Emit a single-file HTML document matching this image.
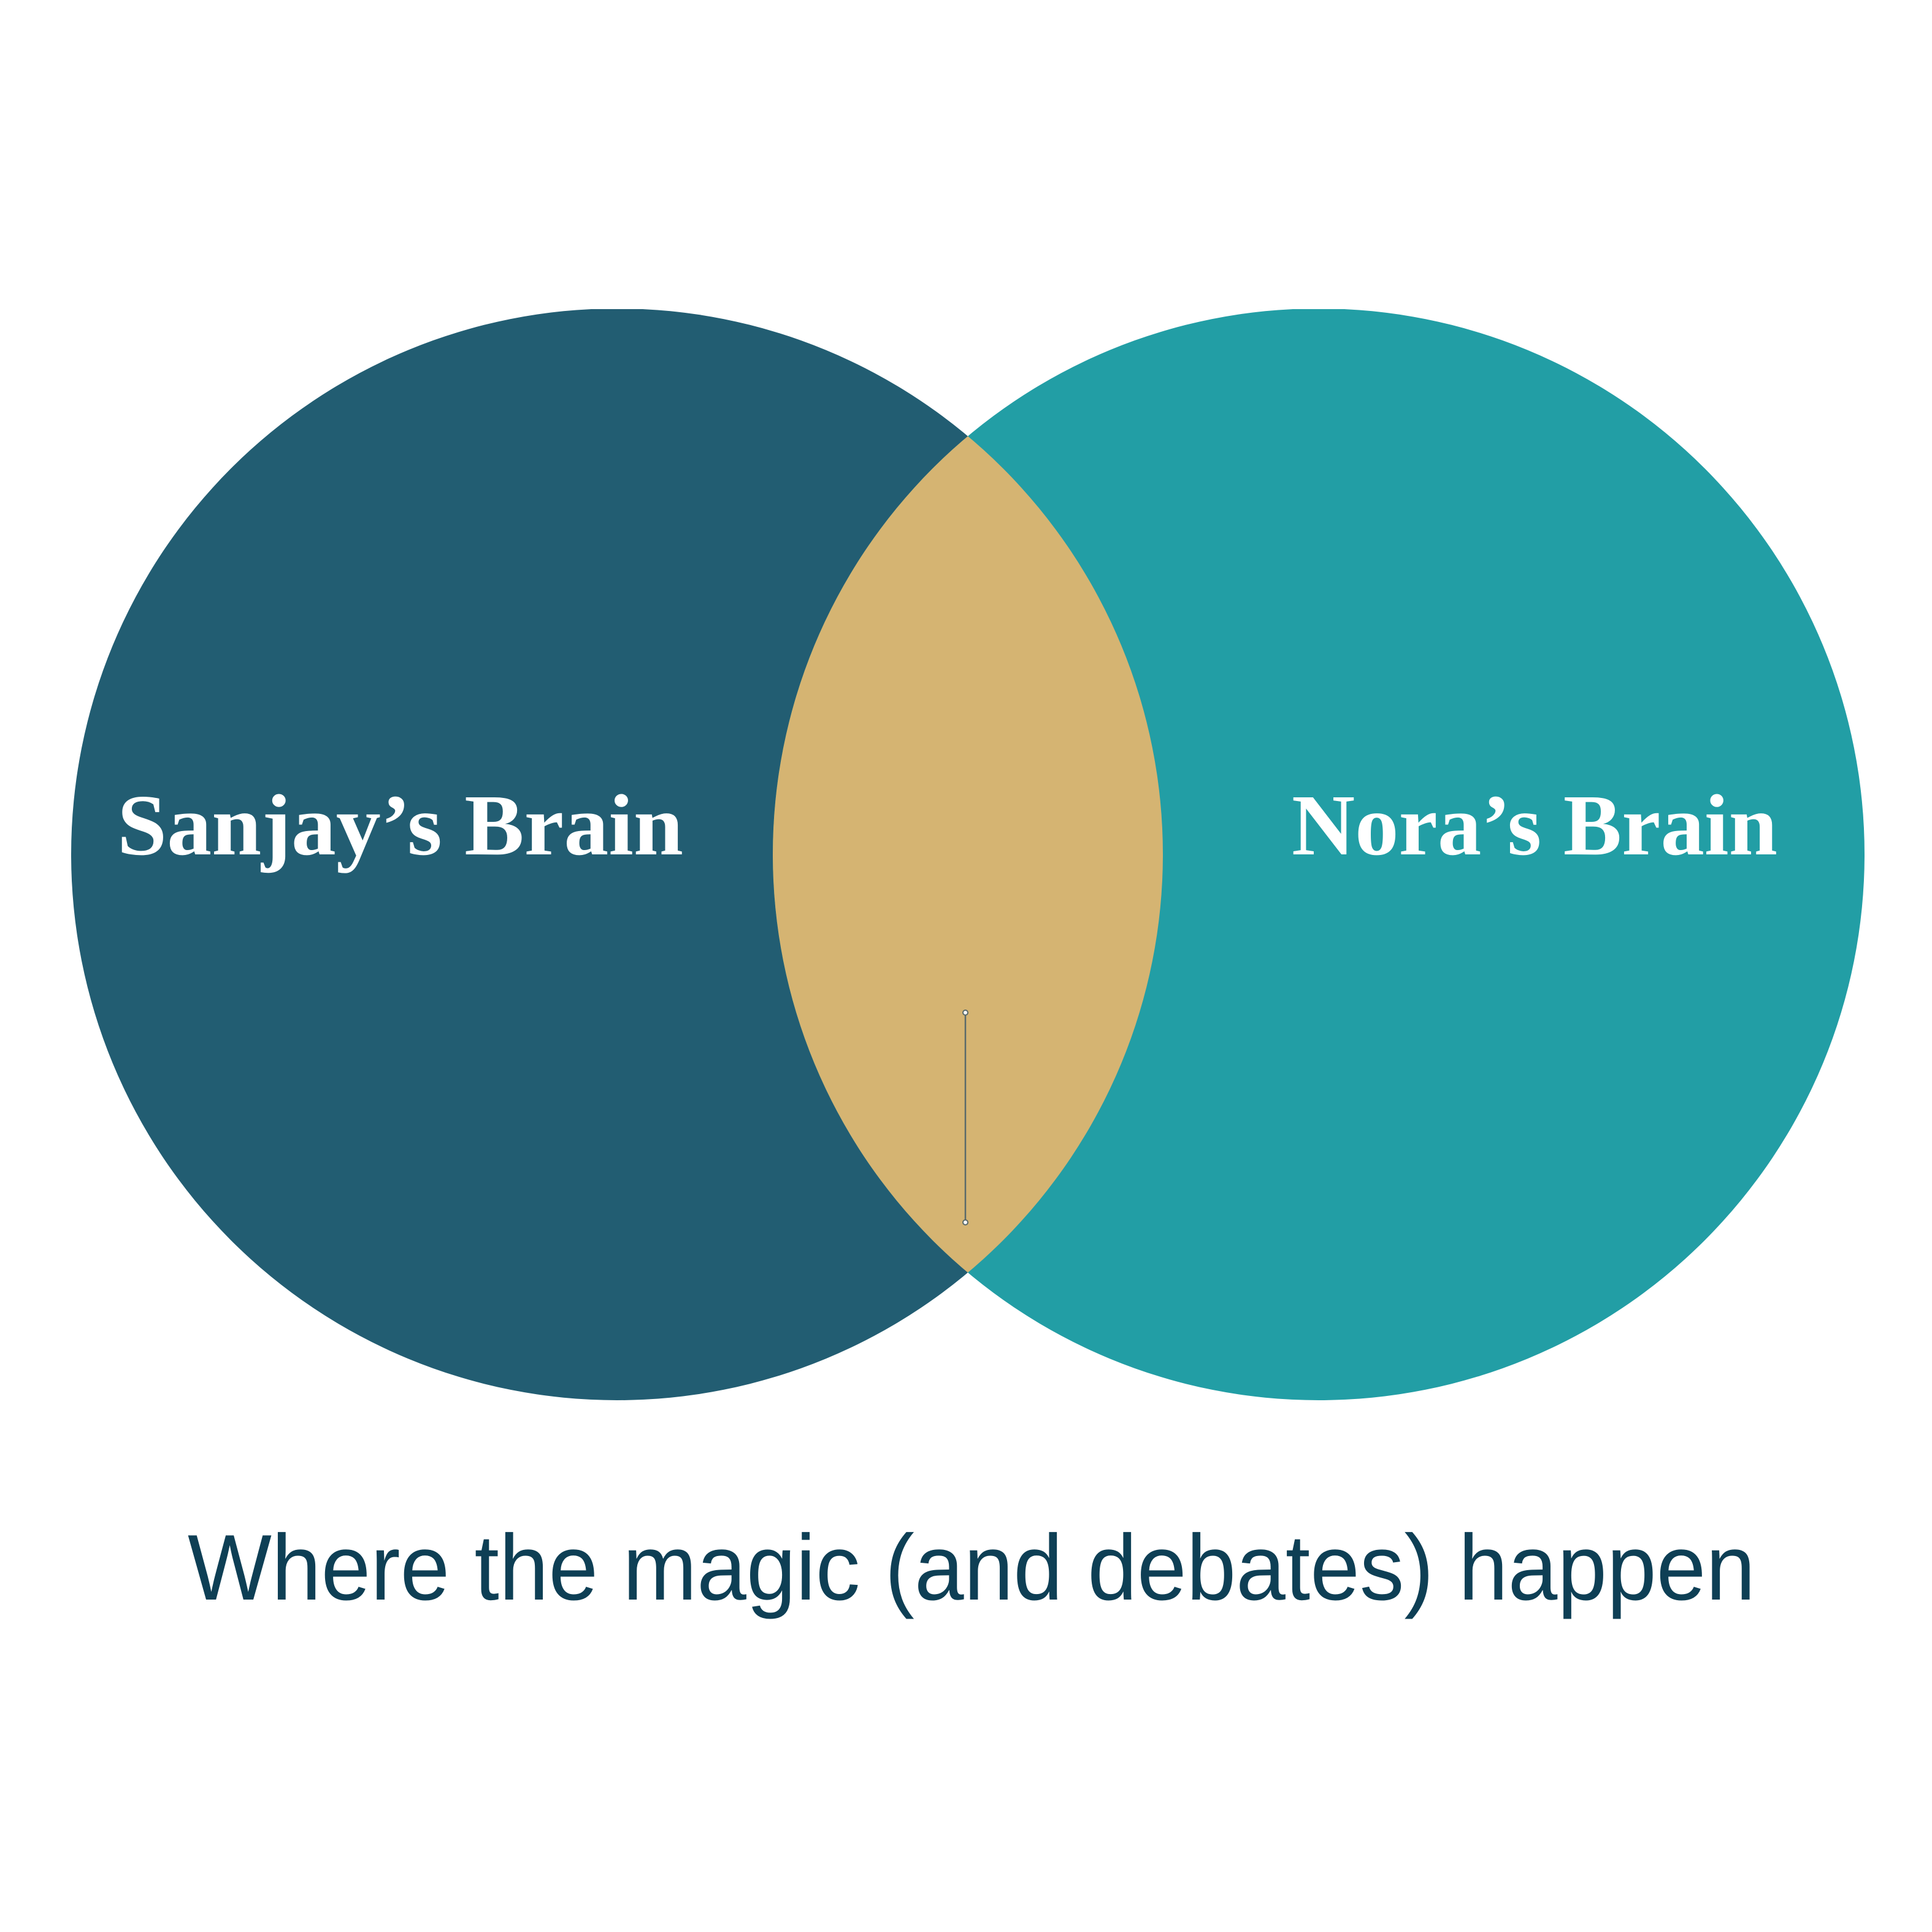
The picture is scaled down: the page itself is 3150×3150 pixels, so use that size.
<!DOCTYPE html>
<html><head><meta charset="utf-8"><style>html,body{margin:0;padding:0;background:#fff}svg{display:block}</style></head>
<body>
<svg width="3150" height="3150" viewBox="0 0 3150 3150" xmlns="http://www.w3.org/2000/svg">
<defs>
<clipPath id="top"><rect x="0" y="504" width="3150" height="2700"/></clipPath>
<clipPath id="lc"><circle cx="1006" cy="1393" r="890"/></clipPath>
</defs>
<g clip-path="url(#top)">
<circle cx="1006" cy="1393" r="890" fill="#225d72"/>
<circle cx="2150" cy="1393" r="890" fill="#229ea5"/>
<circle cx="2150" cy="1393" r="890" fill="#d5b472" clip-path="url(#lc)"/>
</g>
<line x1="1574" y1="1651" x2="1574" y2="1993" stroke="#5a6a6a" stroke-width="2.5"/>
<circle cx="1574" cy="1651" r="4" fill="#fff" stroke="#5a6a6a" stroke-width="2"/>
<circle cx="1574" cy="1993" r="4" fill="#fff" stroke="#5a6a6a" stroke-width="2"/>
<text x="191" y="1393" font-family="Liberation Serif, serif" font-weight="bold" font-size="142" fill="#fff" textLength="923" lengthAdjust="spacingAndGlyphs">Sanjay’s Brain</text>
<text x="2106" y="1393" font-family="Liberation Serif, serif" font-weight="bold" font-size="142" fill="#fff" textLength="792" lengthAdjust="spacingAndGlyphs">Nora’s Brain</text>
<text x="306" y="2608" font-family="Liberation Sans, sans-serif" font-size="152" fill="#0e3f55" textLength="2556" lengthAdjust="spacingAndGlyphs">Where the magic (and debates) happen</text>
</svg>
</body></html>
